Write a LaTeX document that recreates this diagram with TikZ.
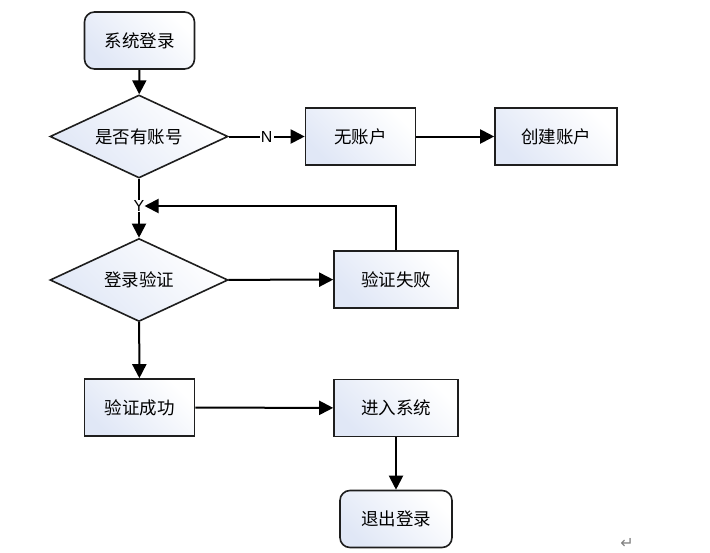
\documentclass[tikz,border=0pt]{standalone}
\usepackage{fontspec}
\setmainfont{Liberation Sans}
\newfontfamily\cjk{Noto Sans CJK SC}
\newfontfamily\symb{DejaVu Sans}
\usetikzlibrary{shapes.geometric,arrows.meta}
\definecolor{boxtint}{HTML}{E0E7F6}
\definecolor{edgeink}{HTML}{1E1E1E}

\tikzset{
  box/.style={draw=edgeink, line width=1.6pt, left color=boxtint, right color=white,
    shading angle=135, minimum width=110pt, minimum height=57pt,
    font=\cjk\fontsize{17.5}{19}\selectfont},
  term/.style={box, rounded corners=10pt},
  ask/.style={box, diamond, aspect=2.1, minimum width=178pt, minimum height=83pt, inner sep=0pt},
  arr/.style={-{Triangle[length=14pt,width=14pt]}, line width=2pt, draw=black},
  lbl/.style={fill=white, inner sep=1pt, font=\fontsize{16}{17}\selectfont}
}

\begin{document}
\begin{tikzpicture}[x=1pt, y=-1pt]

    \useasboundingbox (0,0) rectangle (710,552);

    \node[term] (start) at (139.5, 40.5) {系统登录};
    \node[ask] (acct) at (139, 136.5) {是否有账号};
    \node[box] (none) at (360.5, 136.5) {无账户};
    \node[box, minimum width=122pt] (create) at (556, 136.5) {创建账户};
    \node[lbl, fill=none, inner sep=0pt] (yes) at (139, 206) {Y};
    \node[ask] (check) at (139, 280) {登录验证};
    \node[box, minimum width=124pt] (fail) at (396, 279.5) {验证失败};
    \node[box] (ok) at (139.5, 407.5) {验证成功};
    \node[box, minimum width=124pt] (enter) at (396, 408) {进入系统};
    \node[term, minimum width=112pt] (logout) at (396, 519) {退出登录};
    \node[text=gray, font=\symb\fontsize{16}{17}\selectfont] (mark) at (627, 543) {↵};

    \draw [arr] (start) -- (acct);
    \draw [arr] (acct) -- node[lbl] {N} (none);
    \draw [arr] (none) -- (create);
    \draw [line width=2pt] (acct) -- (yes);
    \draw [arr] (yes) -- (check);
    \draw [arr] (fail.north) |- (yes.east);
    \draw [arr] (check) -- (fail);
    \draw [arr] (check) -- (ok);
    \draw [arr] (ok) -- (enter);
    \draw [arr] (enter) -- (logout);

\end{tikzpicture}
\end{document}
